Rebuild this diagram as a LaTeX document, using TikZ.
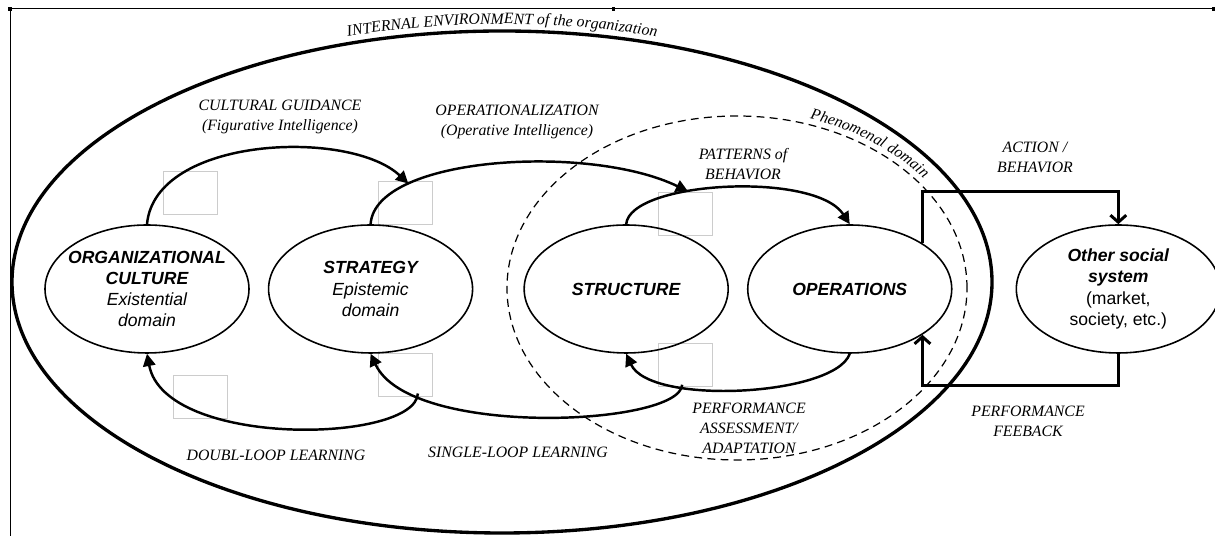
\documentclass[tikz,border=0pt]{standalone}
\usepackage{fontspec}
\setmainfont{Liberation Serif}
\setsansfont{Liberation Sans}
\usepackage{tikz}
\usetikzlibrary{arrows.meta,positioning,shapes.geometric,decorations.text}
\tikzstyle{sysnode} = [draw, ellipse, line width=0.9pt, minimum width=4.08cm, minimum height=2.56cm, inner xsep=-0.2cm, inner ysep=0pt, align=center, font=\sffamily\itshape\fontsize{10}{12}\selectfont]
\tikzstyle{learnarrow} = [line width=1.4pt, -{Triangle[length=7pt,width=7pt]}]
\tikzstyle{linkarrow} = [line width=1.7pt, -{Straight Barb[length=4pt,width=9pt]}]
\tikzstyle{lbl} = [align=center, inner sep=0pt, font=\itshape\fontsize{9}{11.3}\selectfont]
\tikzstyle{ghost} = [draw=black!20, line width=0.4pt]

\begin{document}
\begin{tikzpicture}
        \useasboundingbox (0,0) rectangle (24.3,10.72);
        \draw[line width=0.5pt] (0.2,0) -- (0.2,10.56) -- (24.3,10.56);
        \foreach \x in {0.17,12.23,24.23}
            \fill (\x,10.5) rectangle ++(0.07,0.07);
        \foreach \x/\y in {3.26/7.30, 7.56/7.10, 13.16/6.88, 3.46/3.22, 7.56/3.66, 13.16/3.86}
            \draw[ghost] (\x,\y) rectangle ++(1.08,-0.86);
        % internal environment
        \draw[line width=1.9pt] (10.04,5.08) ellipse (9.8cm and 5.02cm);
        \path[decorate, decoration={text along path, text align=center,
            text={|\itshape\fontsize{9}{11}\selectfont|INTERNAL ENVIRONMENT of the organization}}]
            (10.04,5.08) ++(115:9.94cm and 5.16cm) arc[start angle=115, end angle=65, x radius=9.94cm, y radius=5.16cm];
        % phenomenal domain
        \draw[dash pattern=on 4.5pt off 3pt, line width=0.7pt] (14.74,4.96) ellipse (4.6cm and 3.44cm);
        \path[decorate, decoration={text along path,
            text={|\itshape\fontsize{9}{11}\selectfont|Phenomenal domain}}]
            (14.74,4.96) ++(72:4.72cm and 3.56cm) arc[start angle=72, end angle=30, x radius=4.72cm, y radius=3.56cm];
        % systems
        \node[sysnode] (culture) at (2.94,4.94) {\textbf{ORGANIZATIONAL}\\\textbf{CULTURE}\\Existential\\domain};
        \node[sysnode, right=0.36cm of culture] (strategy) {\textbf{STRATEGY}\\Epistemic\\domain};
        \node[sysnode, right=1cm of strategy] (structure) {\textbf{STRUCTURE}};
        \node[sysnode, right=0.36cm of structure] (operations) {\textbf{OPERATIONS}};
        \node[sysnode, right=1.26cm of operations] (other) {\textbf{Other social}\\\textbf{system}\\\textup{(market,}\\\textup{society, etc.)}};
        % upper loops
        \draw[learnarrow] (structure.north) .. controls (12.6,7.1) and (16.3,7.3) .. (operations.north) coordinate[pos=0.37] (pb);
        \draw[learnarrow] (strategy.north) .. controls (7.5,7.6) and (11.8,7.85) .. (pb) coordinate[pos=0.25] (oi);
        \draw[learnarrow] (culture.north) .. controls (3.1,8.0) and (7.0,8.15) .. (oi);
        % lower loops
        \draw[learnarrow] (operations.south) .. controls (16.7,2.8) and (13.0,2.6) .. (structure.south) coordinate[pos=0.7] (pa);
        \draw[learnarrow] (pa) .. controls (13.6,2.2) and (8.2,1.95) .. (strategy.south) coordinate[pos=0.8] (sl);
        \draw[learnarrow] (sl) .. controls (8.3,1.85) and (3.3,1.75) .. (culture.south);
        % outside link
        \draw[linkarrow] (operations.north east) -- ++(0,1.04) -| (other.north);
        \draw[linkarrow] (other.south) -- ++(0,-0.64) -| (operations.south east);
        % labels
        \node[lbl] (guidance) at (5.6,8.38) {CULTURAL GUIDANCE\\(Figurative Intelligence)};
        \node[lbl] (operational) at (10.34,8.28) {OPERATIONALIZATION\\(Operative Intelligence)};
        \node[lbl] (patterns) at (14.86,7.44) {PATTERNS of\\BEHAVIOR};
        \node[lbl] (action) at (20.70,7.58) {ACTION /\\BEHAVIOR};
        \node[lbl] (feedback) at (20.56,2.30) {PERFORMANCE\\FEEBACK};
        \node[lbl] (assessment) at (14.98,2.16) {PERFORMANCE\\ASSESSMENT/\\ADAPTATION};
        \node[lbl] (double) at (5.52,1.62) {DOUBL-LOOP LEARNING};
        \node[lbl] (single) at (10.36,1.68) {SINGLE-LOOP LEARNING};
    \end{tikzpicture}
\end{document}
